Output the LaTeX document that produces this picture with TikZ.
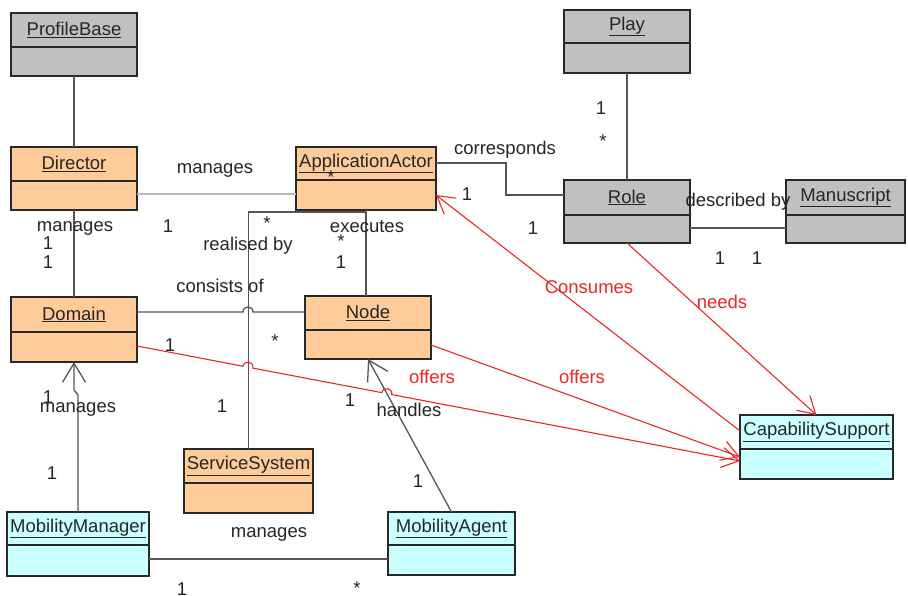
\documentclass[tikz,border=0pt]{standalone}
\usepackage{fontspec}
\setmainfont{Liberation Sans}
\usetikzlibrary{arrows.meta}

\definecolor{orangefill}{RGB}{255,204,153}
\definecolor{grayfill}{RGB}{192,192,192}
\definecolor{cyanfill}{RGB}{204,255,255}
\definecolor{boxedge}{RGB}{40,40,40}
\definecolor{linegray}{RGB}{85,85,85}
\definecolor{lightline}{RGB}{185,185,185}
\definecolor{depred}{RGB}{232,40,40}

\tikzset{
  classbox/.style={draw=boxedge, line width=1.4pt, rectangle, inner sep=0pt, outer sep=0pt},
  classline/.style={draw=boxedge, line width=1.4pt},
  classname/.style={font=\fontsize{18.5}{21}\selectfont, inner sep=0pt, text=black!85},
  lbl/.style={font=\fontsize{18.5}{21}\selectfont, inner sep=0pt, text=black!85},
  redlbl/.style={font=\fontsize{18.5}{21}\selectfont, inner sep=0pt, text=depred},
  assoc/.style={draw=linegray, line width=1.3pt},
  faint/.style={draw=lightline, line width=1.3pt},
  reddep/.style={draw=depred, line width=1.1pt},
  navtip/.style={-{Straight Barb[length=19pt,width=23pt,line width=1.3pt]}},
  redtip/.style={-{Straight Barb[length=17pt,width=20pt,line width=1.1pt]}},
}

% class box: name, fill, left, top, right, bottom, divider y, title
\newcommand{\umlclass}[8]{%
  \node[classbox, fill=#2, minimum width={#5-#3}, minimum height={#6-#4}] (#1) at ({(#3+#5)/2},{(#4+#6)/2}) {};
  \draw[classline] (#3,#7) -- (#5,#7);
  \node[classname] (#1-name) at ({(#3+#5)/2},{(#4+#7)/2}) {\underline{#8}};
}

\begin{document}
\begin{tikzpicture}[x=1pt,y=-1pt]
\useasboundingbox[fill=white] (0,0) rectangle (908,596);

% classes
\umlclass{PB}{grayfill}{11}{13}{137}{76}{47}{ProfileBase}
\umlclass{Dir}{orangefill}{11}{147}{137}{210}{181}{Director}
\umlclass{Dom}{orangefill}{11}{297}{137}{362}{332}{Domain}
\umlclass{AA}{orangefill}{296}{147}{436}{210}{180}{ApplicationActor}
\umlclass{Play}{grayfill}{564}{10}{690}{73}{43}{Play}
\umlclass{Role}{grayfill}{564}{180}{690}{243}{215}{Role}
\umlclass{Man}{grayfill}{786}{180}{905}{243}{215}{Manuscript}
\umlclass{Node}{orangefill}{305}{296}{431}{359}{330}{Node}
\umlclass{CS}{cyanfill}{740}{415}{893}{479}{449}{CapabilitySupport}
\umlclass{SS}{orangefill}{184}{449}{313}{513}{483}{ServiceSystem}
\umlclass{MM}{cyanfill}{7}{512}{149}{576}{545}{MobilityManager}
\umlclass{MA}{cyanfill}{388}{512}{515}{575}{545}{MobilityAgent}

% associations
\draw[assoc] (PB.south) -- (Dir.north);
\draw[faint] (Dir.east |- 0,194) -- (AA.west |- 0,194);
\draw[assoc] (Dir.south) -- (Dom.north);
\draw[assoc] (AA.east |- 0,163) -- (506,163) -- (506,195) -- (Role.west |- 0,195);
\draw[assoc] (Play.south) -- (Role.north);
\draw[assoc] (Role.east |- 0,228) -- (Man.west |- 0,228);
\draw[assoc] (AA.south) -- (AA.south |- Node.north);
\draw[assoc] (SS.north) |- ([yshift=-2pt]AA.south);
\draw[assoc] (Dom.east |- 0,312) -- (243,312)
  .. controls (243,305.3) and (253,305.3) .. (253,312) -- (Node.west |- 0,312);
\draw[assoc, navtip] (MM.north) -- (78,395) -- (74,390) -- (Dom.south);
\draw[assoc] (MM.east |- 0,559) -- (MA.west |- 0,559);
\draw[assoc, navtip] (MA.north) -- (Node.south);

% dependencies
\draw[reddep, redtip] (CS.west |- 0,431) -- (AA.east |- 0,195);
\draw[reddep, redtip] (Role.south) -- (CS.north);
\draw[reddep, redtip] (Node.east |- 0,345) -- (CS.west |- 0,457);
\draw[reddep, redtip] (Dom.east |- 0,346) -- (243.09,366.26)
  .. controls (244.34,359.68) and (254.16,361.56) .. (252.91,368.14)
  -- (381.89,392.66)
  .. controls (383.14,386.08) and (392.96,387.96) .. (391.71,394.54)
  -- (CS.west |- 0,461);

% association labels
\node[lbl] (l1) at (215,170) {manages};
\node[lbl] (l2) at (168,226) {1};
\node[lbl] (l3) at (331,177) {*};
\node[lbl] (l4) at (75,228) {manages};
\node[lbl] (l5) at (48,243) {1};
\node[lbl] (l6) at (48,262) {1};
\node[lbl] (l7) at (505,150) {corresponds};
\node[lbl] (l8) at (467,194) {1};
\node[lbl] (l9) at (533,228) {1};
\node[lbl] (l10) at (601,108) {1};
\node[lbl] (l11) at (603,141) {*};
\node[lbl] (l12) at (738,202) {described by};
\node[lbl] (l13) at (720,258) {1};
\node[lbl] (l14) at (757,258) {1};
\node[lbl] (l15) at (367,227) {executes};
\node[lbl] (l16) at (341,241) {*};
\node[lbl] (l17) at (341,262) {1};
\node[lbl] (l18) at (267,223) {*};
\node[lbl] (l19) at (248,246) {realised by};
\node[lbl] (l20) at (220,286) {consists of};
\node[lbl] (l21) at (275,341) {*};
\node[lbl] (l22) at (170,345) {1};
\node[lbl] (l23) at (350,400) {1};
\node[lbl] (l24) at (409,410) {handles};
\node[lbl] (l25) at (418,481) {1};
\node[lbl] (l26) at (222,406) {1};
\node[lbl] (l27) at (48,397) {1};
\node[lbl] (l28) at (78,409) {manages};
\node[lbl] (l29) at (52,473) {1};
\node[lbl] (l30) at (269,534) {manages};
\node[lbl] (l31) at (182,589) {1};
\node[lbl] (l32) at (357,588) {*};

% dependency labels
\node[redlbl] (r1) at (589,287) {Consumes};
\node[redlbl] (r2) at (722,302) {needs};
\node[redlbl] (r3) at (432,377) {offers};
\node[redlbl] (r4) at (582,377) {offers};
\end{tikzpicture}
\end{document}
